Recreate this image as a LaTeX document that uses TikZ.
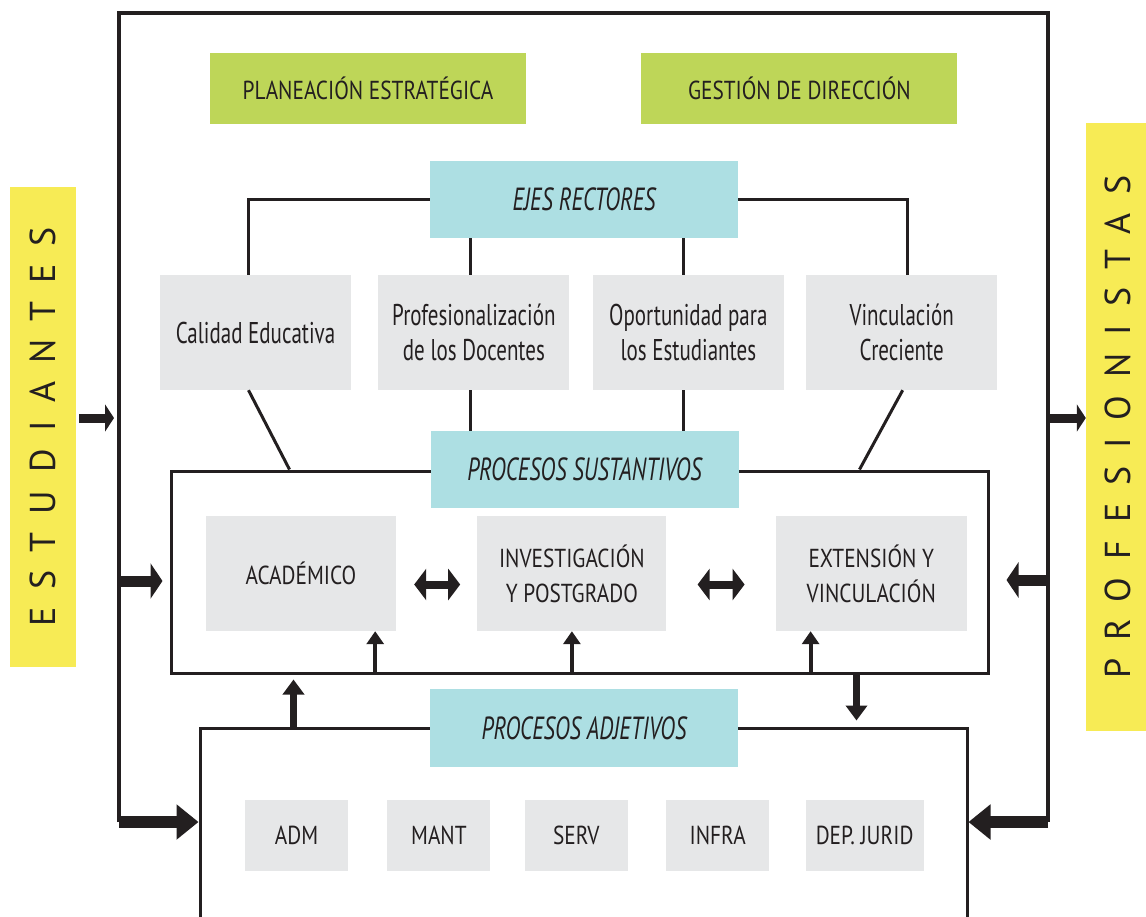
\documentclass[tikz,border=0pt]{standalone}
\usepackage{fontspec}
\setmainfont[FakeStretch=0.7]{PT Sans}
\newfontfamily\capfont[FakeStretch=0.82]{PT Sans}
\newfontfamily\sidefont[LetterSpace=50]{PT Sans}
\usepackage{tikz}
\usetikzlibrary{positioning,arrows.meta}
\definecolor{ink}{RGB}{35,31,32}
\definecolor{leaf}{RGB}{190,214,88}
\definecolor{aqua}{RGB}{173,223,227}
\definecolor{mist}{RGB}{230,231,232}
\definecolor{sun}{RGB}{247,235,85}
\tikzset{green node/.style={fill=leaf,text=ink,minimum width=316pt,minimum height=71pt,inner sep=0pt,font=\capfont\fontsize{26}{32}\selectfont},
aqua node/.style={fill=aqua,text=ink,minimum width=308pt,minimum height=77pt,inner sep=0pt,font=\fontsize{32}{36}\selectfont\itshape},
eje node/.style={fill=mist,text=ink,minimum width=191pt,minimum height=115pt,inner sep=0pt,align=center,font=\fontsize{30}{35}\selectfont},
proc node/.style={eje node,minimum width=190pt,font=\capfont\fontsize{26}{35}\selectfont},
small node/.style={fill=mist,text=ink,minimum width=103pt,minimum height=71pt,inner sep=0pt,font=\capfont\fontsize{26}{32}\selectfont},
side node/.style={fill=sun,text=ink,rotate=90,inner sep=0pt,font=\sidefont\fontsize{36}{40}\selectfont},
box line/.style={draw=ink,line width=3pt},
link/.style={draw=ink,line width=3pt},
in arrow/.style={draw=ink,line width=9pt,arrows={-Triangle[length=9pt,width=27pt]}},
mid arrow/.style={draw=ink,line width=11pt,arrows={-Triangle[length=12pt,width=35pt]}},
base arrow/.style={draw=ink,line width=12pt,arrows={-Triangle[length=22pt,width=34pt]}},
both arrow/.style={draw=ink,line width=8pt,arrows={Triangle[length=12pt,width=31pt]-Triangle[length=12pt,width=31pt]}},
up small/.style={draw=ink,line width=4pt,arrows={-Triangle[length=13pt,width=17pt]}},
up big/.style={draw=ink,line width=7pt,arrows={-Triangle[length=15pt,width=21pt]}},
}

\begin{document}
\begin{tikzpicture}[x=1pt,y=-1pt]
	\useasboundingbox (0,0) rectangle (1146,916);
	\clip (0,0) rectangle (1146,916);
	
	%% outer frame
	\coordinate (tl) at (119,13);
	\coordinate (tr) at (1048,13);
	\coordinate (bl) at (119,822);
	\coordinate (br) at (1048,822);
	\draw[box line,line width=3.5pt] (bl) -- (tl) -- (tr) -- (br);
	
	\node[side node,minimum width=480pt,minimum height=66pt] (est) at (43,427) {ESTUDIANTES};
	\node[side node,minimum width=608pt,minimum height=64pt] (pside) at (1118,427) {PROFESIONISTAS};
	
	\node[green node] (plan) at (368,88.5) {PLANEACIÓN ESTRATÉGICA};
	\node[green node] (gest) [right = 115pt of plan] {GESTIÓN DE DIRECCIÓN};
	
	%% ejes rectores
	\node[aqua node] (ejes) at (584,199.5) {EJES RECTORES};
	\node[eje node] (cal) at (255.5,332.5) {Calidad Educativa};
	\node[eje node] (prof) [right = 27pt of cal] {Profesionalización\\de los Docentes};
	\node[eje node] (opor) [right = 23pt of prof] {Oportunidad para\\los Estudiantes};
	\node[eje node] (vinc) [right = 22pt of opor] {Vinculación\\Creciente};
	
	%% procesos sustantivos
	\node[box line,minimum width=817pt,minimum height=202pt] (susframe) at (579.5,572) {};
	\node[aqua node] (sus) at (584.5,469.5) {PROCESOS SUSTANTIVOS};
	\node[proc node] (acad) at (301,573.5) {ACADÉMICO};
	\node[proc node,minimum width=189pt] (inv) [right = 81pt of acad] {INVESTIGACIÓN\\Y POSTGRADO};
	\node[proc node,minimum width=191pt] (ext) [right = 109pt of inv] {EXTENSIÓN Y\\VINCULACIÓN};
	
	%% procesos adjetivos
	\node[box line,minimum width=767pt,minimum height=220pt] (adjframe) at (583.5,838) {};
	\node[aqua node,minimum height=78pt] (adj) at (584,728) {PROCESOS ADJETIVOS};
	\node[small node] (adm) at (296.5,835.5) {ADM};
	\node[small node] (mant) [right = 39pt of adm] {MANT};
	\node[small node] (serv) [right = 34pt of mant] {SERV};
	\node[small node] (infra) [right = 38pt of serv] {INFRA};
	\node[small node,minimum width=118pt] (dep) [right = 36pt of infra] {DEP. JURID};
	
	\draw[link] (ejes.west) -| ([xshift=-7pt]cal.north);
	\draw[link] (ejes.east) -| ([xshift=6pt]vinc.north);
	\path[link]
	([xshift=-3pt]prof.north) edge ([xshift=-3pt]prof.north |- ejes.south)
	([xshift=-5pt]opor.north) edge ([xshift=-5pt]opor.north |- ejes.south)
	([xshift=-3pt]prof.south) edge ([xshift=-3pt]prof.south |- sus.north)
	([xshift=-5pt]opor.south) edge ([xshift=-5pt]opor.south |- sus.north)
	([xshift=-7pt]cal.south) edge ([xshift=120pt]susframe.north west)
	([xshift=1pt]vinc.south) edge ([xshift=-130pt]susframe.north east)
	;
	
	%% entradas y salidas
	\coordinate (in1) at (114,418);
	\coordinate (out1) at (1048,418);
	\coordinate (in2) at (119,581);
	\coordinate (out2) at (1048,580);
	\draw[in arrow,shorten <=3pt] (est.south |- in1) -- (in1);
	\draw[in arrow] (out1) -- (out1 -| pside.north);
	\draw[mid arrow,shorten >=7pt] (in2) -- (in2 -| susframe.west);
	\draw[mid arrow,shorten >=17pt] (out2) -- (out2 -| susframe.east);
	\draw[base arrow] (bl) -- (bl -| adjframe.west);
	\draw[base arrow] (br) -- (br -| adjframe.east);
	
	\draw[both arrow,shorten <=18pt,shorten >=17pt] ([yshift=-11pt]acad.east) -- ([yshift=-11pt]inv.west);
	\draw[both arrow,shorten <=31pt,shorten >=31pt] ([yshift=-11pt]inv.east) -- ([yshift=-11pt]ext.west);
	
	\draw[up small] ([xshift=-21pt]acad.south east |- susframe.south) -- ([xshift=-21pt]acad.south east);
	\draw[up small] (inv.south |- susframe.south) -- (inv.south);
	\draw[up small] ([xshift=35pt]ext.south west |- susframe.south) -- ([xshift=35pt]ext.south west);
	\draw[up big,shorten >=5pt] ([xshift=95pt]adjframe.north west) -- ([xshift=95pt]adjframe.north west |- susframe.south);
	\draw[up big,shorten >=6pt] ([xshift=-133pt]susframe.south east) -- ([xshift=-133pt]susframe.south east |- adjframe.north);
\end{tikzpicture}
\end{document}
